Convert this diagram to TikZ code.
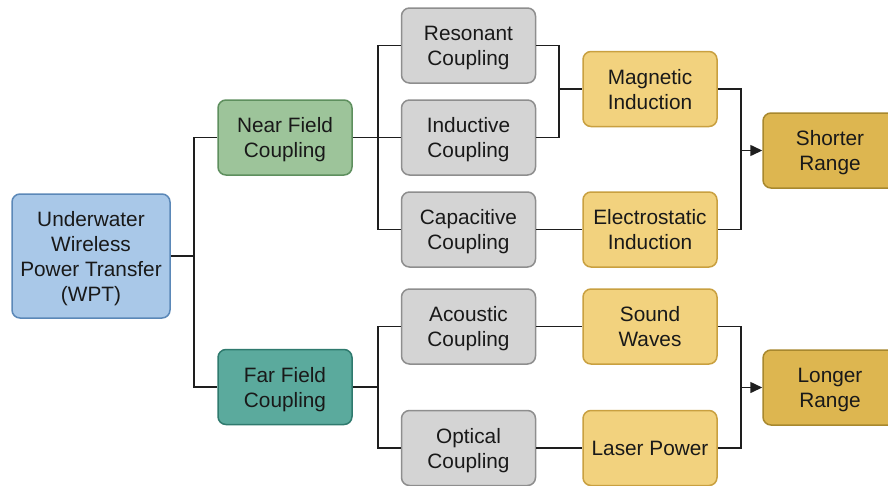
\documentclass[tikz,border=0pt]{standalone}
\usepackage{fontspec}
\setmainfont{Liberation Sans}
\usetikzlibrary{arrows.meta}
\definecolor{bluefill}{HTML}{A9C8E8}
\definecolor{blueline}{HTML}{5B88B8}
\definecolor{nearfill}{HTML}{9DC49A}
\definecolor{nearline}{HTML}{5E8F5E}
\definecolor{farfill}{HTML}{5BAA9D}
\definecolor{farline}{HTML}{2F7A6E}
\definecolor{grayfill}{HTML}{D4D4D4}
\definecolor{grayline}{HTML}{8E8E8E}
\definecolor{goldfill}{HTML}{F2D27E}
\definecolor{goldline}{HTML}{C9A040}
\definecolor{dgoldfill}{HTML}{DDB650}
\definecolor{dgoldline}{HTML}{A8882E}
\definecolor{wire}{HTML}{1E1E1E}
\tikzset{
  box/.style={rounded corners=8pt, line width=1.5pt, minimum width=134pt, minimum height=75pt,
    align=center, inner sep=0pt, font=\fontsize{20.8}{25}\selectfont, text=black!90,
    text height=40pt, text depth=0pt},
  oneline/.style={text height=15pt, text depth=0pt},
  fourline/.style={text height=90pt, text depth=0pt},
  wptbox/.style={box, fill=bluefill, draw=blueline, minimum width=158pt, minimum height=124pt, fourline},
  nearbox/.style={box, fill=nearfill, draw=nearline},
  farbox/.style={box, fill=farfill, draw=farline},
  graybox/.style={box, fill=grayfill, draw=grayline},
  goldbox/.style={box, fill=goldfill, draw=goldline},
  rangebox/.style={box, fill=dgoldfill, draw=dgoldline},
  wireline/.style={draw=wire, line width=1.5pt},
  arr/.style={wireline, -{Triangle[length=12pt,width=11pt]}}
}
\begin{document}
\begin{tikzpicture}[x=1pt,y=-1pt]
\useasboundingbox (0,0) rectangle (888,485);
\fill[white] (0,0) rectangle (888,485);
\clip (0,0) rectangle (888,485);
% nodes
\node[wptbox] (wpt) at (91,256) {Underwater\\Wireless\\Power Transfer\\(WPT)};
\node[nearbox] (near) at (285,137.5) {Near Field\\Coupling};
\node[farbox] (far) at (285,387) {Far Field\\Coupling};
\node[graybox] (res) at (468.5,45.5) {Resonant\\Coupling};
\node[graybox] (ind) at (468.5,137.5) {Inductive\\Coupling};
\node[graybox] (cap) at (468.5,229.5) {Capacitive\\Coupling};
\node[graybox] (aco) at (468.5,326.5) {Acoustic\\Coupling};
\node[graybox] (opt) at (468.5,448) {Optical\\Coupling};
\node[goldbox] (mag) at (650,89) {Magnetic\\Induction};
\node[goldbox] (ele) at (650,229.5) {Electrostatic\\Induction};
\node[goldbox] (snd) at (650,326.5) {Sound\\Waves};
\node[goldbox, oneline] (las) at (650,448) {Laser Power};
\node[rangebox] (short) at (830,150.5) {Shorter\\Range};
\node[rangebox] (long) at (830,387.5) {Longer\\Range};
% junctions
\coordinate (j1) at (194,256);
\coordinate (j2) at (378,137.5);
\coordinate (j3) at (559,89);
\coordinate (j4) at (741,150.5);
\coordinate (j5) at (378,387);
\coordinate (j6) at (741,387.5);
% connectors
\draw[wireline] (wpt.east) -- (j1);
\draw[wireline] (near.west) -| (j1) |- (far.west);
\draw[wireline] (near.east) -- (j2) -- (ind.west);
\draw[wireline] (res.west) -| (j2) |- (cap.west);
\draw[wireline] (res.east) -| (j3) |- (ind.east);
\draw[wireline] (j3) -- (mag.west);
\draw[wireline] (cap.east) -- (ele.west);
\draw[wireline] (mag.east) -| (j4) |- (ele.east);
\draw[arr] (j4) -- (short.west);
\draw[wireline] (far.east) -- (j5);
\draw[wireline] (aco.west) -| (j5) |- (opt.west);
\draw[wireline] (aco.east) -- (snd.west);
\draw[wireline] (opt.east) -- (las.west);
\draw[wireline] (snd.east) -| (j6) |- (las.east);
\draw[arr] (j6) -- (long.west);
\end{tikzpicture}
\end{document}
